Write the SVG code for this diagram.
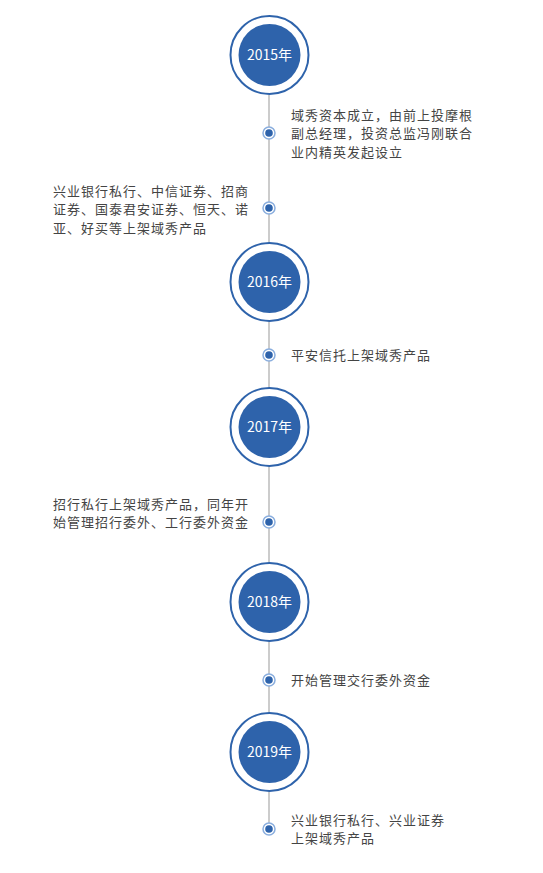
<svg xmlns="http://www.w3.org/2000/svg" width="543" height="873" viewBox="0 0 543 873">
<style>
.bg{fill:#ffffff}
.axis{stroke:#cccccc;stroke-width:2;fill:none}
.ring{fill:#ffffff;stroke:#2e63ab;stroke-width:2}
.core{fill:#2e63ab}
.year{font-family:"Noto Sans CJK SC","Noto Sans",sans-serif;font-size:14px;fill:#ffffff;text-anchor:middle}
.dring{fill:#ffffff;stroke:#8aaede;stroke-width:1.5}
.dcore{fill:#2e63ab}
.t{font-family:"Noto Sans CJK SC","Noto Sans",sans-serif;font-size:13px;letter-spacing:1px;fill:#444444}
</style>
<rect class="bg" x="0" y="0" width="543" height="873"/>
<g id="connectors">
<line class="axis" x1="269" y1="95" x2="269" y2="829"/>
</g>
<g id="y2015"><circle class="ring" cx="269.5" cy="55" r="39"/><circle class="core" cx="269.5" cy="55" r="31"/><text class="year" x="269.5" y="60">2015年</text></g>
<g id="y2016"><circle class="ring" cx="269.5" cy="282" r="39"/><circle class="core" cx="269.5" cy="282" r="31"/><text class="year" x="269.5" y="287">2016年</text></g>
<g id="y2017"><circle class="ring" cx="269.5" cy="427" r="39"/><circle class="core" cx="269.5" cy="427" r="31"/><text class="year" x="269.5" y="432">2017年</text></g>
<g id="y2018"><circle class="ring" cx="269.5" cy="602" r="39"/><circle class="core" cx="269.5" cy="602" r="31"/><text class="year" x="269.5" y="607">2018年</text></g>
<g id="y2019"><circle class="ring" cx="269.5" cy="752" r="39"/><circle class="core" cx="269.5" cy="752" r="31"/><text class="year" x="269.5" y="757">2019年</text></g>
<g id="e1"><circle class="dring" cx="269" cy="133" r="6"/><circle class="dcore" cx="269" cy="133" r="3.8"/>
<text class="t" x="291" y="119.5">域秀资本成立，由前上投摩根</text><text class="t" x="291" y="138">副总经理，投资总监冯刚联合</text><text class="t" x="291" y="156.5">业内精英发起设立</text></g>
<g id="e2"><circle class="dring" cx="269" cy="208" r="6"/><circle class="dcore" cx="269" cy="208" r="3.8"/>
<text class="t" x="53" y="195.5">兴业银行私行、中信证券、招商</text><text class="t" x="53" y="214">证券、国泰君安证券、恒天、诺</text><text class="t" x="53" y="232.5">亚、好买等上架域秀产品</text></g>
<g id="e3"><circle class="dring" cx="269" cy="355" r="6"/><circle class="dcore" cx="269" cy="355" r="3.8"/>
<text class="t" x="291" y="359.5">平安信托上架域秀产品</text></g>
<g id="e4"><circle class="dring" cx="269" cy="522" r="6"/><circle class="dcore" cx="269" cy="522" r="3.8"/>
<text class="t" x="53" y="509">招行私行上架域秀产品，同年开</text><text class="t" x="53" y="527">始管理招行委外、工行委外资金</text></g>
<g id="e5"><circle class="dring" cx="269" cy="680" r="6"/><circle class="dcore" cx="269" cy="680" r="3.8"/>
<text class="t" x="291" y="684.5">开始管理交行委外资金</text></g>
<g id="e6"><circle class="dring" cx="269" cy="829" r="6"/><circle class="dcore" cx="269" cy="829" r="3.8"/>
<text class="t" x="291" y="825">兴业银行私行、兴业证券</text><text class="t" x="291" y="843">上架域秀产品</text></g>
</svg>
